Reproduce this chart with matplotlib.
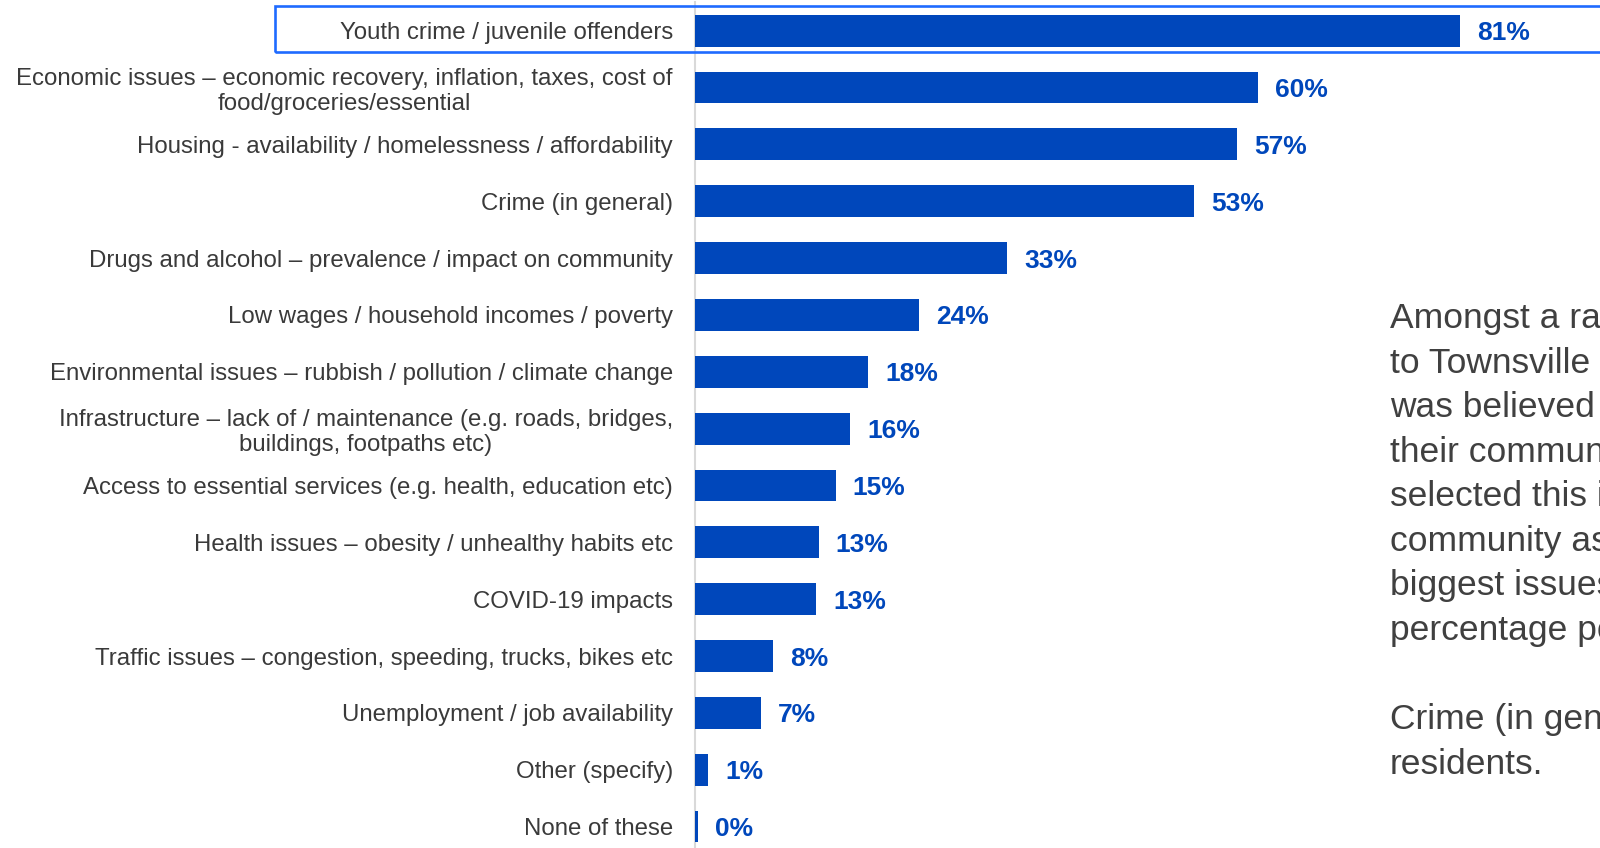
import matplotlib
matplotlib.use('Agg')
import matplotlib.pyplot as plt
from matplotlib.patches import Rectangle
import numpy as np

plt.rcParams['font.family'] = ['Liberation Sans', 'DejaVu Sans']

categories = [
    'Youth crime / juvenile offenders',
    'Economic issues \u2013 economic recovery, inflation, taxes, cost of\nfood/groceries/essential',
    'Housing - availability / homelessness / affordability',
    'Crime (in general)',
    'Drugs and alcohol \u2013 prevalence / impact on community',
    'Low wages / household incomes / poverty',
    'Environmental issues \u2013 rubbish / pollution / climate change',
    'Infrastructure \u2013 lack of / maintenance (e.g. roads, bridges,\nbuildings, footpaths etc)',
    'Access to essential services (e.g. health, education etc)',
    'Health issues \u2013 obesity / unhealthy habits etc',
    'COVID-19 impacts',
    'Traffic issues \u2013 congestion, speeding, trucks, bikes etc',
    'Unemployment / job availability',
    'Other (specify)',
    'None of these',
]
values = [81.0, 59.6, 57.4, 52.8, 33.0, 23.7, 18.3, 16.4, 14.9, 13.1, 12.8,
          8.3, 7.0, 1.4, 0.3]

# side commentary runs off the slide edge in the original
side_text = ('Amongst a range of issues\n'
             'to Townsville residents\n'
             'was believed to be\n'
             'their community\n'
             'selected this issue\n'
             'community as one\n'
             'biggest issues\n'
             'percentage points\n'
             '\n'
             'Crime (in general)\n'
             'residents.')

bar_color = '#0047BB'
W, H = 1600, 848
fig = plt.figure(figsize=(16, 8.48), dpi=100)

# axes placed in pixel terms
ax_left = 695 / W
ax_top = 1 - 2.2 / H
ax_bot = 1 - 855 / H
ax = fig.add_axes([ax_left, ax_bot, 1 - ax_left, ax_top - ax_bot])

y = np.arange(len(categories))
ax.barh(y, values, height=0.56, color=bar_color, zorder=3)
for yi, v in zip(y, values):
    ax.text(v + 1.8, yi, '{:.0f}%'.format(v), va='center_baseline',
            ha='left', fontsize=19, fontweight='bold', color=bar_color)

ax.set_xlim(0, 905 / 9.45)
ax.set_ylim(len(categories) - 0.5, -0.5)
ax.set_yticks(y)
ax.set_yticklabels(categories, fontsize=17.3, color='#3a3a3a',
                   multialignment='center')
ax.tick_params(axis='y', length=0, pad=16)
ax.set_xticks([])
for s in ['top', 'right', 'bottom']:
    ax.spines[s].set_visible(False)
ax.spines['left'].set_color('#d9d9d9')
ax.spines['left'].set_linewidth(1.5)

# highlight box round the top row
box = Rectangle((275 / W, 1 - 52 / H), 1.0, 46 / H, transform=fig.transFigure,
                fill=False, edgecolor='#1F6BFF', linewidth=1.9, zorder=10,
                clip_on=False)
fig.patches.append(box)

fig.text(1390 / W, 1 - 302 / H, side_text, ha='left', va='top',
         fontsize=25.5, color='#404040', linespacing=1.445)

fig.savefig('out.png', dpi=100, facecolor='white')
